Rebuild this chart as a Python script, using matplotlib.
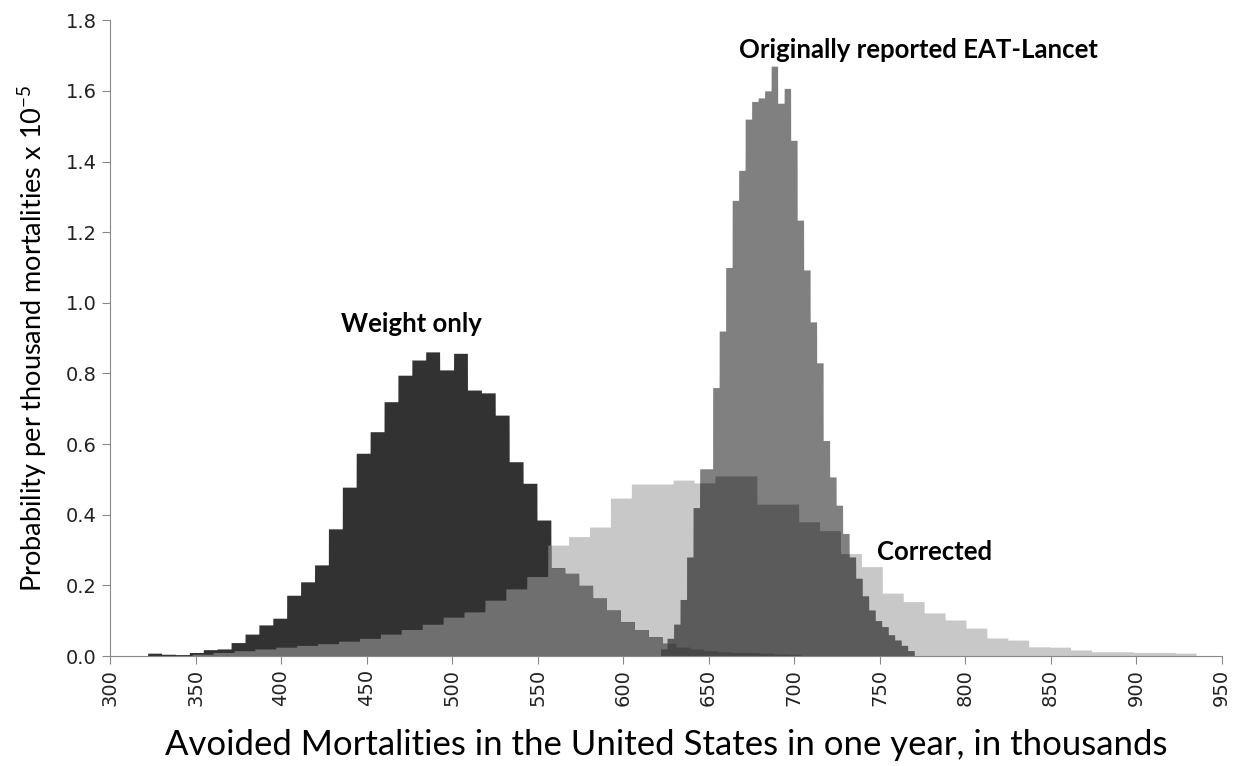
import numpy as np
import matplotlib.pyplot as plt

# simulated distributions, probability per thousand mortalities (x 1e-5)
# each one has its own bins: first bin edge and bin width (thousands)
weight_start, weight_width = 322, 8.13
weight_only = [0.008, 0.005, 0.004, 0.010, 0.018, 0.020, 0.038, 0.062, 0.088, 0.107,
               0.172, 0.210, 0.258, 0.360, 0.478, 0.574, 0.635, 0.720, 0.795, 0.838,
               0.861, 0.810, 0.857, 0.753, 0.745, 0.682, 0.550, 0.489, 0.385, 0.250,
               0.234, 0.200, 0.164, 0.130, 0.097, 0.075, 0.055, 0.036, 0.025, 0.020,
               0.015, 0.012, 0.010, 0.010, 0.008, 0.006, 0.005]

corrected_start, corrected_width = 348, 12.23
corrected = [0.005, 0.010, 0.015, 0.020, 0.025, 0.030, 0.035, 0.042, 0.050, 0.062,
             0.075, 0.090, 0.110, 0.125, 0.158, 0.190, 0.225, 0.314, 0.338, 0.365,
             0.447, 0.487, 0.487, 0.498, 0.490, 0.510, 0.510, 0.430, 0.430, 0.380,
             0.355, 0.290, 0.253, 0.178, 0.154, 0.122, 0.102, 0.079, 0.051, 0.045,
             0.026, 0.025, 0.017, 0.012, 0.012, 0.010, 0.010, 0.008]

eat_start, eat_width = 622, 3.8
eat_lancet = [0.020, 0.050, 0.090, 0.160, 0.280, 0.420, 0.530, 0.530, 0.760, 0.920,
              1.100, 1.290, 1.375, 1.520, 1.570, 1.580, 1.600, 1.670, 1.565, 1.607,
              1.460, 1.234, 1.093, 0.946, 0.830, 0.610, 0.507, 0.427, 0.347, 0.280,
              0.220, 0.170, 0.130, 0.100, 0.083, 0.060, 0.045, 0.030, 0.015]

labels = {'Weight only': (476, 0.94),
          'Originally reported EAT-Lancet': (773, 1.715),
          'Corrected': (782, 0.295)}


def on_grid(xs, start, width, heights):
    h = np.asarray(heights)
    idx = np.floor((xs - start) / width).astype(int)
    out = np.zeros_like(xs)
    ok = (idx >= 0) & (idx < len(h))
    out[ok] = h[idx[ok]]
    return out


xs = np.arange(300, 950, 0.05)
w = on_grid(xs, weight_start, weight_width, weight_only)
c = on_grid(xs, corrected_start, corrected_width, corrected)
e = on_grid(xs, eat_start, eat_width, eat_lancet)

plt.rcParams['mathtext.fontset'] = 'custom'
plt.rcParams['mathtext.rm'] = 'Lato'

fig = plt.figure(figsize=(12.42, 7.66), dpi=100)
ax = fig.add_axes([0.0886, 0.1436, 0.895, 0.830])

ax.fill_between(xs, 0, c, color='#c8c8c8', lw=0)
ax.fill_between(xs, 0, w, color='#323232', lw=0)
ax.fill_between(xs, 0, e, color='#808080', lw=0)
# overlapping parts
ax.fill_between(xs, 0, np.minimum(w, c), color='#6f6f6f', lw=0)
ax.fill_between(xs, 0, np.minimum(c, e), color='#5b5b5b', lw=0)
ax.fill_between(xs, 0, np.minimum(np.minimum(w, c), e), color='#474747', lw=0)

for txt, (x, y) in labels.items():
    ax.text(x, y, txt, ha='center', va='center', fontsize=18.5,
            fontweight='bold', family='Lato')

ax.set_xlim(300, 950)
ax.set_ylim(0, 1.8)
ax.set_xticks(np.arange(300, 951, 50))
ax.set_yticks(np.arange(0, 1.81, 0.2))
ax.set_yticklabels([f'{v:.1f}' for v in np.arange(0, 1.81, 0.2)])
ax.tick_params(axis='x', labelrotation=90)
ax.tick_params(colors='#888888', labelcolor='#222222', labelsize=14, length=6)

for s in ['top', 'right']:
    ax.spines[s].set_visible(False)
for s in ['left', 'bottom']:
    ax.spines[s].set_color('#888888')

ax.set_xlabel('Avoided Mortalities in the United States in one year, in thousands',
              family='Lato', fontsize=25, labelpad=16)
ax.set_ylabel('Probability per thousand mortalities x 10$^{\\mathrm{-5}}$',
              family='Lato', fontsize=19.5, labelpad=12)

fig.savefig('out.png', dpi=100)
